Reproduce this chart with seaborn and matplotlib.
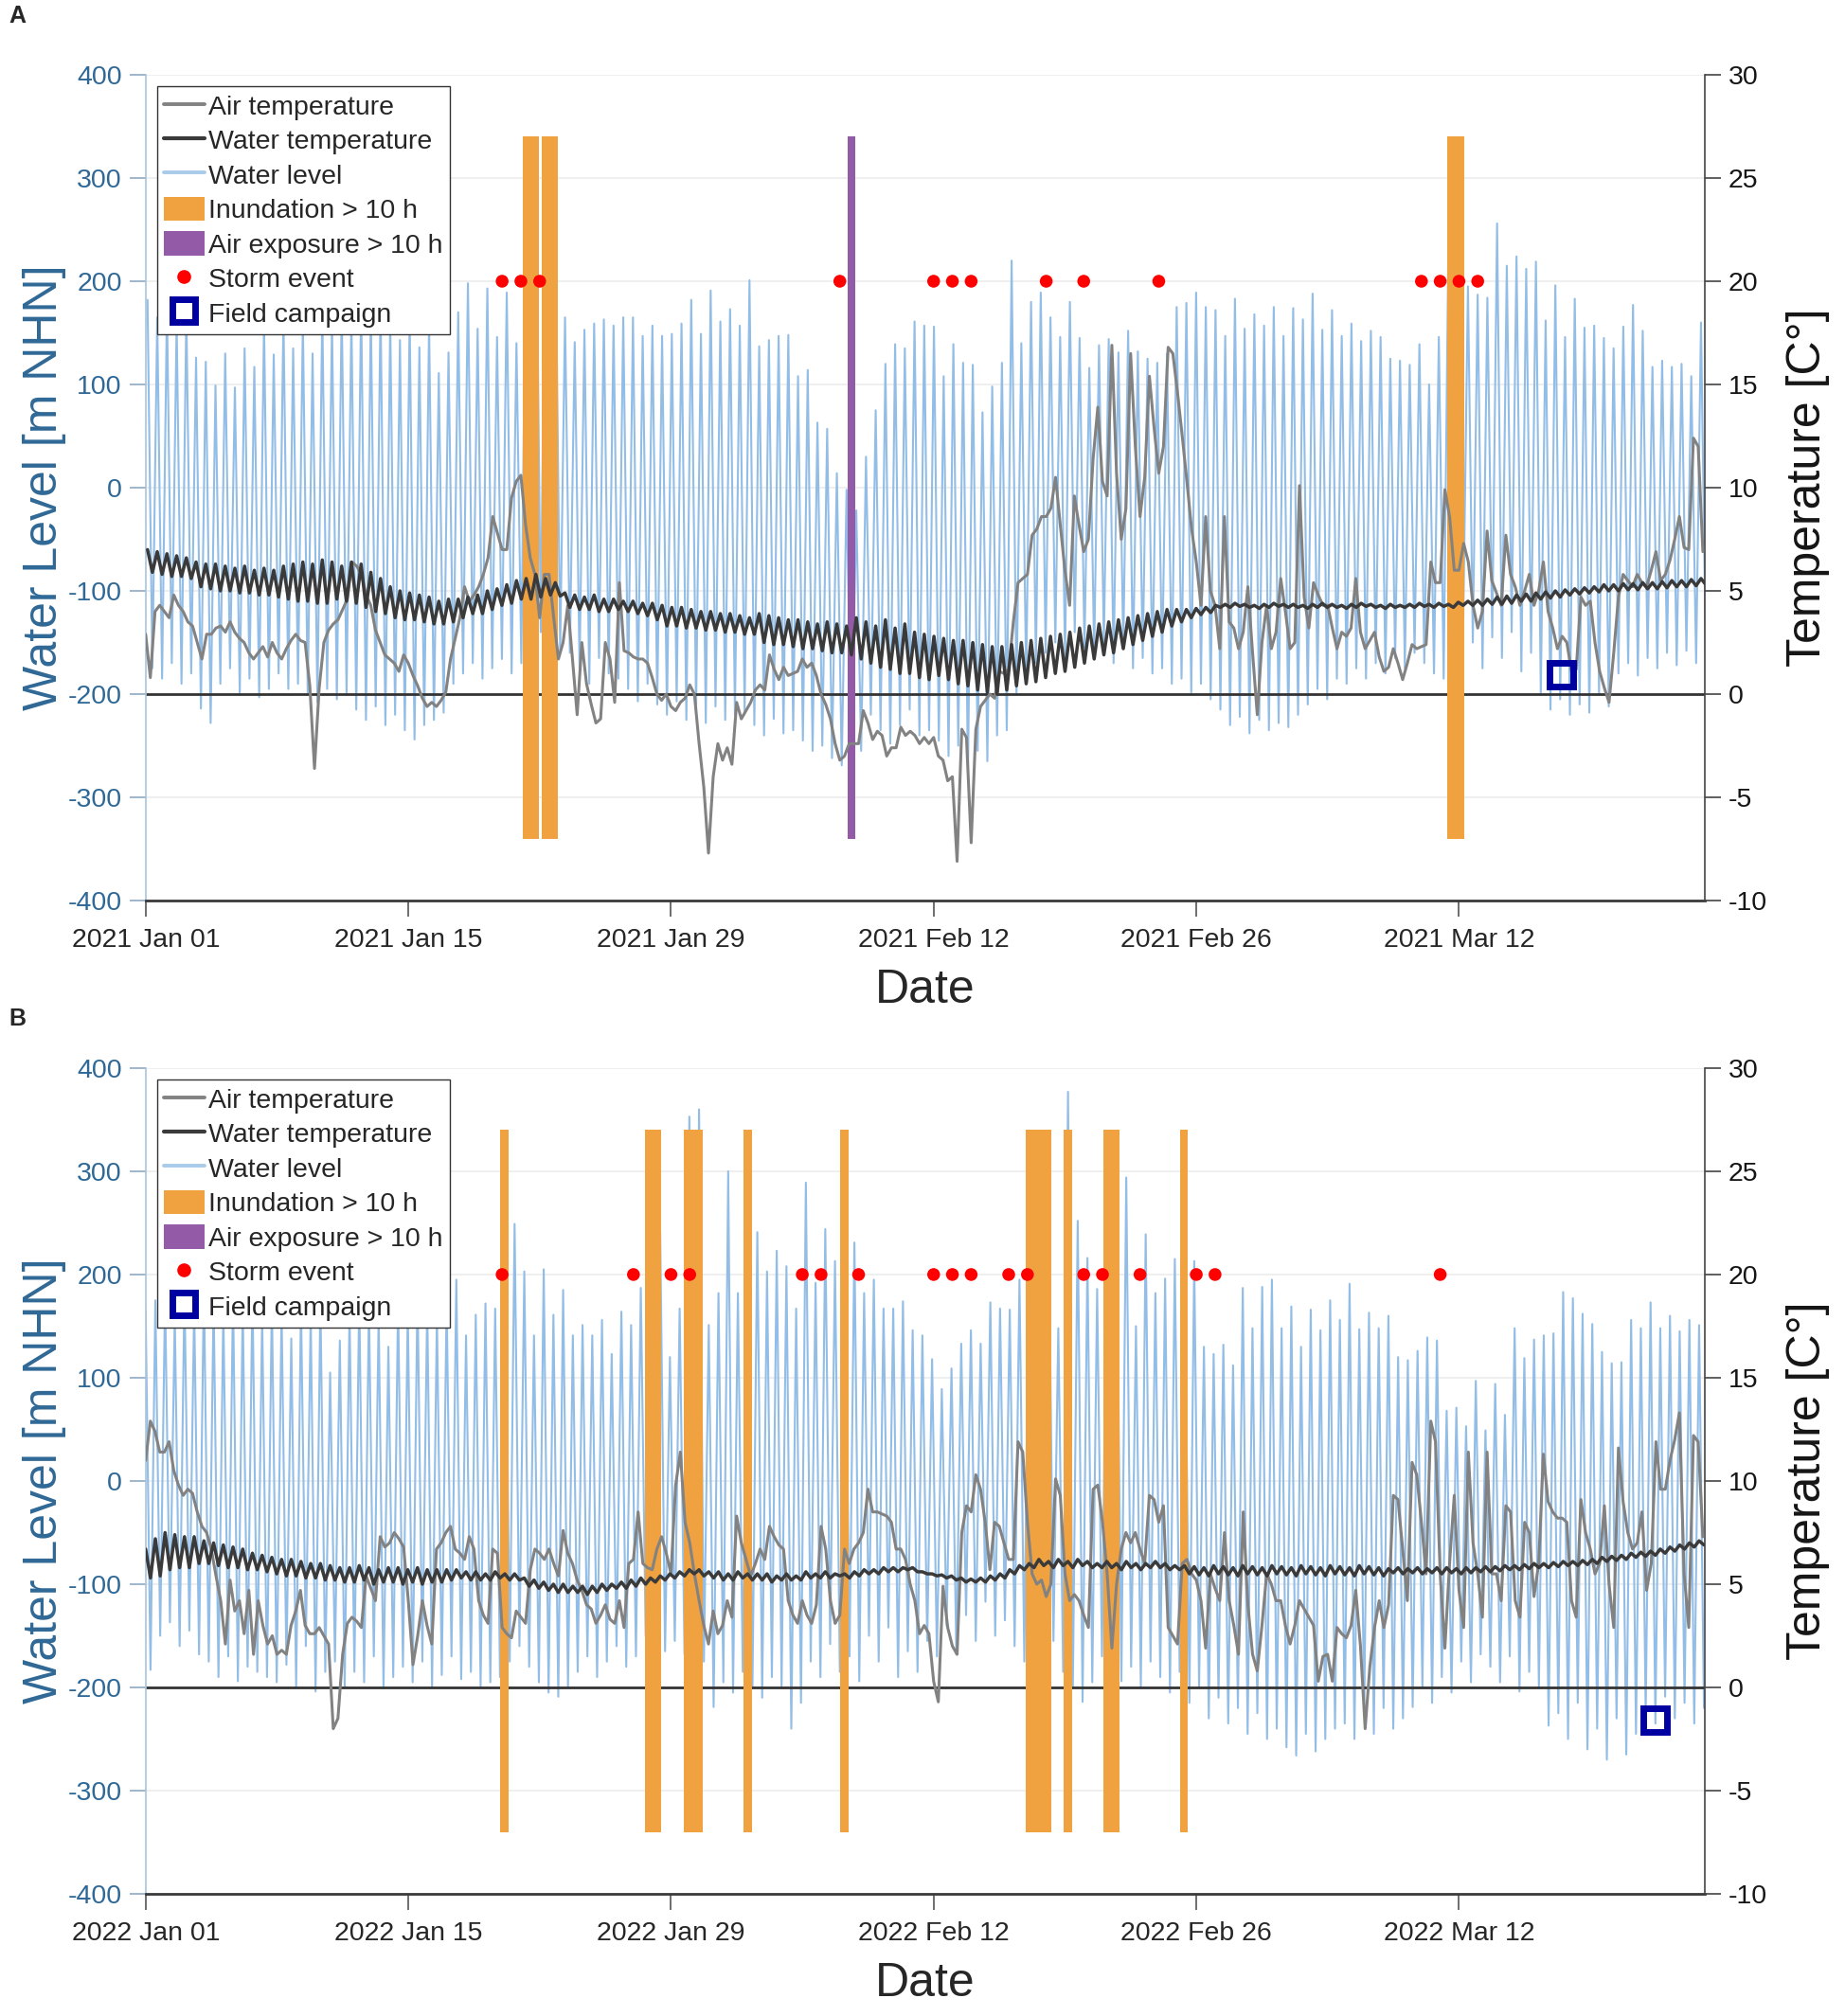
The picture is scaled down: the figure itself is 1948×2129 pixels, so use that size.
import numpy as np
import matplotlib
matplotlib.use("Agg")
import matplotlib.pyplot as plt
import matplotlib.dates as mdates
from matplotlib.lines import Line2D
from matplotlib.patches import Patch
import seaborn as sns
from datetime import datetime

sns.set_theme(style="white")
plt.rcParams['font.family'] = ['Liberation Sans', 'DejaVu Sans']
plt.rcParams['axes.unicode_minus'] = False

# ---------------- data (panel A: 2021, panel B: 2022) ----------------
# water level at successive high waters / low waters [m NHN, axis units]
hw_2021 = [182, 165, 175, 160, 170, 126, 122, 99, 130, 97, 135, 117, 160, 129, 165, 135, 160, 130, 170, 160,
           175, 165, 180, 170, 175, 160, 143, 165, 136, 160, 111, 131, 170, 198, 154, 193, 146, 189, 140, 290,
           310, 300, 260,
           165, 141, 153, 159, 163, 157, 165, 165, 147, 157, 147, 149, 159, 182, 149, 191, 161, 173, 157, 201,
           137, 143, 147, 148, 108, 114, 63, 57, 14, -2, -22, 30, 75, 120, 139, 135, 161, 157,
           156, 108, 139, 121, 119, 73, 98, 121, 220, 140, 180, 189, 165, 146, 180, 145, 116, 138, 144, 131,
           152, 132, 125, 121, 130, 175, 179, 189, 175, 172, 147, 183, 154, 168, 157, 175, 147, 174, 163, 188,
           153, 172, 147, 159, 142, 152, 146, 125, 123, 119, 139, 100, 146, 250, 240, 195, 187, 184, 256, 215,
           224, 212, 219, 162, 196, 146, 183, 155, 157, 145, 135, 156, 177, 152, 117, 123, 117, 120, 108, 160]
lw_2021 = [-175, -185, -170, -190, -180, -214, -228, -190, -175, -200, -185, -203, -195, -180, -195, -190,
           -200, -208, -195, -205, -200, -215, -225, -212, -230, -220, -235, -244, -230, -225, -218,
           -190, -180, -170, -185, -175, -166, -180, -170, -150, -140, -150, -160,
           -160, -175, -190, -165, -180, -185, -195, -207, -190,
           -210, -220, -207, -225, -215, -228, -212, -225, -220, -218, -230, -240, -224, -238, -235,
           -245, -255, -250, -262, -269, -265, -255, -220, -235, -248, -230, -215, -240, -235,
           -245, -260, -250, -276, -255, -265, -240, -235, -200, -185, -170, -160, -150, -165, -140, -155,
           -160, -150, -170, -155, -175, -165, -180, -175, -190, -185, -199, -190, -205,
           -215, -230, -222, -238, -225, -235, -228, -232, -220,
           -210, -195, -205, -185, -190, -175, -185, -170, -180, -165, -175, -160, -170, -180,
           -185, -150, -140, -150, -175, -145, -165, -140, -178, -160,
           -200, -215, -205, -220, -210, -218, -200, -212,
           -180, -170, -182, -165, -175, -160, -172, -158, -170, -165]
hw_2022 = [165, 175, 180, 160, 185, 170, 190, 175, 165, 180, 170, 185, 160, 175, 165, 138, 170, 160, 175, 105,
           136, 165, 180, 170, 160, 130, 175, 165, 185, 170, 160, 175,
           195, 141, 161, 172, 167, 260, 249, 203, 141, 205, 161, 185, 141, 151, 141, 156, 123, 164, 151, 187,
           250, 240, 120, 167, 353, 360, 151, 182, 300, 182, 230, 241, 203, 223, 208, 167, 289, 192, 244, 213,
           250, 231, 182, 195, 167, 167, 174, 146, 141,
           118, 89, 109, 133, 146, 133, 173, 167, 166, 195, 260, 270, 260, 148, 377, 252, 216, 186, 240, 250,
           294, 150, 239, 182, 196, 215, 230, 213, 130, 123, 132, 112, 187, 148, 188, 195, 148, 169, 130, 166,
           146, 175, 156, 191, 147, 163, 148, 160, 120, 117, 126, 139, 136, 68, 71, 53, 97, 49, 94, 64,
           148, 119, 137, 141, 143, 183, 177, 162, 152, 125, 114, 115, 156, 148, 173, 148, 160, 145, 156, 151]
lw_2022 = [-183, -150, -137, -160, -145, -168, -175, -190, -170, -194, -180, -185, -190, -195, -178, -199,
           -160, -204, -185, -175, -200, -185, -195, -170, -201, -190, -180, -195, -175, -200, -188, -170,
           -192, -185, -199, -195, -190, -175, -160, -180, -195, -205, -209, -200, -185, -170, -190, -175,
           -160, -180, -170, -150, -142, -165, -155, -168, -150, -175, -219, -195, -205, -185, -200, -210,
           -190, -199, -240, -215, -175, -190, -158, -185, -170, -194, -150, -175, -142, -190, -165, -185,
           -155, -170,
           -140, -168, -130, -155, -117, -150, -135, -160,
           -175, -160, -190, -155, -185, -200, -214, -195, -170, -185, -194, -180, -200, -175, -190, -205, -185,
           -215, -200, -230, -210, -235, -220, -245, -225, -250, -240, -258, -266, -245, -262, -250, -240,
           -235, -250, -225, -245, -220, -240, -230, -219, -200, -215, -190, -205, -175, -195, -168,
           -180, -195, -170, -204, -185, -200, -237, -225, -250, -215, -260, -240, -270, -230, -265, -245,
           -225, -235, -209, -230, -215, -235, -220]

# water temperature [°C] at high water / low water times
wt_hw_2021 = [7.0, 6.9, 6.8, 6.7, 6.6, 6.4, 6.3, 6.3, 6.2, 6.1, 6.2, 6.0, 6.1, 6.0, 6.2, 6.3,
              6.4, 6.3, 6.5, 6.4, 6.2, 6.4, 6.3, 5.9, 5.6, 5.2, 5.0, 4.9, 4.8, 4.7, 4.5, 4.6, 4.6,
              4.7, 4.8, 5.0, 5.1, 5.3, 5.5, 5.6, 5.8, 5.6, 5.4,
              4.9, 4.8, 4.7, 4.8, 4.6, 4.6, 4.5, 4.5, 4.4, 4.4, 4.3, 4.2, 4.2, 4.1, 4.0, 4.0, 3.9, 3.9, 3.8, 3.7,
              3.9, 3.8, 3.7, 3.6, 3.6, 3.5, 3.4, 3.5, 3.4, 3.3, 3.7, 3.5, 3.3, 3.6, 3.2, 3.4, 3.0, 2.9,
              2.8, 2.7, 2.6, 2.6, 2.5, 2.4, 2.3, 2.3, 2.4, 2.5, 2.6, 2.7, 2.8, 2.9, 3.0, 3.2,
              3.3, 3.4, 3.5, 3.6, 3.7, 3.8, 3.9, 4.0, 4.1, 4.1, 4.1, 4.15, 4.2,
              4.3, 4.35, 4.4, 4.35, 4.3, 4.35, 4.4, 4.35, 4.35, 4.3, 4.35, 4.4, 4.35, 4.3, 4.35, 4.4, 4.35,
              4.3, 4.35, 4.3, 4.35, 4.4, 4.35,
              4.4, 4.35, 4.45, 4.5, 4.55, 4.6, 4.7, 4.75, 4.8, 4.85, 4.9, 4.95, 5.0, 5.05, 5.1, 5.15, 5.2,
              5.3, 5.3, 5.35, 5.35, 5.4, 5.4, 5.45, 5.5, 5.5, 5.55, 5.6]
wt_lw_2021 = [5.9, 5.8, 5.7, 5.7, 5.6, 5.2, 5.1, 5.0, 5.0, 4.9, 4.9, 4.8, 4.8, 4.7, 4.6, 4.5,
              4.5, 4.4, 4.4, 4.6, 4.5, 4.4, 4.2, 4.0, 3.9, 3.7, 3.6, 3.6, 3.5, 3.4, 3.4, 3.5, 3.7,
              3.9, 3.9, 4.1, 4.3, 4.4, 4.6, 4.6, 4.7, 4.8, 4.75,
              4.2, 4.1, 4.1, 4.0, 4.0, 4.1, 4.0, 3.9, 3.8, 3.6, 3.3, 3.3, 3.2, 3.2, 3.1, 3.1, 3.0, 3.0, 2.9, 2.9,
              2.5, 2.4, 2.4, 2.3, 2.2, 2.2, 2.1, 2.0, 2.0, 1.9, 1.7, 1.5, 1.3, 1.2, 1.0, 1.0, 0.8, 0.7,
              0.9, 0.7, 0.5, 0.4, 0.2, 0.1, 0.0, 0.2, 0.4, 0.5, 0.6, 0.8, 1.0, 1.1, 1.3, 1.5,
              1.7, 1.9, 2.0, 2.2, 2.4, 2.6, 2.8, 3.0, 3.3, 3.5, 3.7, 3.85, 3.95,
              4.2, 4.2, 4.25, 4.2, 4.15, 4.2, 4.25, 4.2, 4.2, 4.15, 4.2, 4.2, 4.2, 4.15, 4.2, 4.25, 4.2,
              4.15, 4.2, 4.2, 4.2, 4.25, 4.2,
              4.25, 4.2, 4.3, 4.3, 4.3, 4.35, 4.35, 4.4, 4.5, 4.5, 4.6, 4.65, 4.7, 4.8, 4.85, 4.9, 4.95,
              5.0, 5.0, 5.05, 5.05, 5.1, 5.1, 5.15, 5.2, 5.2, 5.25, 5.3]
wt_hw_2022 = [6.7, 7.2, 7.5, 7.4, 7.3, 7.3, 7.1, 7.0, 6.9, 6.8, 6.7, 6.5, 6.4, 6.3, 6.2, 6.2, 6.1, 6.0, 6.0,
              5.9, 5.8, 5.8, 5.9, 5.8, 5.7, 5.8, 5.8, 5.7, 5.8, 5.7, 5.7, 5.7,
              5.7, 5.6, 5.6, 5.5, 5.6, 5.5, 5.5, 5.3, 5.2, 5.1, 5.0, 5.0, 4.9, 4.9, 4.9,
              5.0, 5.0, 5.1, 5.2, 5.3, 5.3, 5.4, 5.5, 5.6, 5.7,
              5.7, 5.6, 5.6, 5.5, 5.6, 5.5, 5.5, 5.5, 5.4, 5.5, 5.4, 5.6, 5.5, 5.6, 5.5, 5.5,
              5.6, 5.7, 5.7, 5.8, 5.8, 5.8, 5.8, 5.6, 5.5, 5.45, 5.4, 5.3, 5.25, 5.3,
              5.4, 5.5, 5.7, 5.9, 6.0,
              6.2, 6.1, 6.2, 6.1, 6.2, 6.1, 6.0, 6.1, 6.0, 6.1, 6.0, 6.0, 6.1, 6.0, 5.9,
              5.9, 5.85, 5.8, 5.9, 5.85, 5.8, 5.9, 5.85, 5.8, 5.9, 5.85, 5.8, 5.9, 5.85, 5.8, 5.9, 5.85, 5.8,
              5.9, 5.85, 5.8,
              5.75, 5.8, 5.75, 5.8, 5.75, 5.8, 5.8, 5.75, 5.8, 5.8, 5.85,
              5.85, 5.9, 5.9, 5.95, 6.0, 6.0, 6.05, 6.1, 6.1, 6.15, 6.2,
              6.3, 6.35, 6.4, 6.5, 6.55, 6.6, 6.7, 6.8, 6.9, 7.0, 7.1]
wt_lw_2022 = [5.3, 5.4, 5.7, 5.8, 5.8, 6.0, 6.0, 5.9, 5.8, 5.8, 5.7, 5.7, 5.6, 5.5, 5.4, 5.4, 5.3, 5.3, 5.2,
              5.2, 5.1, 5.1, 5.2, 5.0, 5.1, 5.1, 5.0, 5.1, 5.0, 5.1, 5.1, 5.2,
              5.3, 5.2, 5.2, 5.2, 5.3, 5.2, 5.2, 4.9, 4.8, 4.7, 4.6, 4.6, 4.6, 4.5, 4.6,
              4.7, 4.8, 4.8, 4.9, 5.0, 5.1, 5.2, 5.3, 5.4, 5.5,
              5.4, 5.3, 5.2, 5.2, 5.3, 5.2, 5.2, 5.1, 5.2, 5.2, 5.2, 5.3, 5.3, 5.3, 5.4, 5.3,
              5.4, 5.5, 5.5, 5.6, 5.6, 5.7, 5.6, 5.5, 5.4, 5.3, 5.2, 5.1, 5.1, 5.1,
              5.2, 5.3, 5.5, 5.7, 5.8,
              5.9, 5.8, 5.9, 5.8, 5.9, 5.8, 5.8, 5.8, 5.7, 5.8, 5.7, 5.8, 5.8, 5.7, 5.7,
              5.5, 5.45, 5.4, 5.5, 5.45, 5.4, 5.5, 5.45, 5.4, 5.5, 5.45, 5.4, 5.5, 5.45, 5.4, 5.5, 5.45, 5.4,
              5.5, 5.45, 5.4,
              5.55, 5.5, 5.55, 5.5, 5.55, 5.5, 5.55, 5.5, 5.55, 5.6, 5.6,
              5.65, 5.7, 5.7, 5.75, 5.8, 5.8, 5.85, 5.9, 5.9, 5.95, 6.0,
              6.1, 6.15, 6.2, 6.3, 6.35, 6.4, 6.5, 6.6, 6.7, 6.8, 6.9]

# air temperature [°C], 6-hourly from 1 Jan 00:00
air_2021 = [2.9, 0.8, 4.0, 4.3, 4.0, 3.7, 4.8, 4.3, 4.0, 3.5, 3.3, 2.5, 1.7, 2.9, 2.9, 3.2,
            3.3, 3.0, 3.5, 3.0, 2.7, 2.5, 2.0, 1.7, 2.0, 2.3, 1.8, 2.5, 2.0, 1.7, 2.2, 2.6,
            2.9, 2.6, 2.5, 0.4, -3.6, 0.3, 2.5, 3.1, 3.4, 3.6, 4.1, 4.6, 6.4, 6.2, 5.8, 4.8,
            4.3, 3.1, 2.5, 1.9, 1.7, 1.5, 1.1, 1.9, 1.5, 0.9, 0.4, -0.2, -0.6, -0.4, -0.6, -0.3,
            0.1, 1.7, 2.7, 3.7, 5.2, 4.5, 4.8, 5.2, 5.8, 6.6, 8.6, 7.8, 7.0, 7.0, 9.5, 10.3,
            10.6, 8.2, 6.6, 5.8, 3.7, 5.8, 5.8, 3.7, 1.7, 2.5, 4.3, 1.7, -1.0, 2.5, 0.5, -0.5,
            -1.4, -1.2, 2.5, 1.7, -0.4, 5.4, 2.1, 2.0, 1.8, 1.7, 1.7, 1.5, 0.8, 0.0, -0.3, 0.0,
            -0.6, -0.8, -0.4, -0.2, 0.45, 0.0, -2.4, -4.5, -7.7, -4.0, -2.4, -3.2, -2.6, -3.4, -0.4, -1.2,
            -0.8, -0.4, 0.2, 0.45, 0.2, 1.9, 1.2, 0.7, 1.3, 0.9, 1.0, 1.1, 1.7, 1.3, 1.5, 0.9,
            0.0, -0.5, -1.2, -2.4, -3.2, -3.0, -2.4, -2.4, -2.4, -0.8, -1.4, -2.2, -1.8, -2.0, -3.0, -2.6,
            -2.6, -1.6, -2.0, -1.8, -2.0, -2.4, -2.1, -2.4, -2.1, -3.0, -3.2, -4.2, -4.0, -8.1, -1.7, -2.1,
            -7.2, -1.7, -0.6, -0.3, 0.0, -0.2, 1.1, 1.0, 1.2, 3.5, 5.4, 5.6, 5.8, 7.7, 8.0, 8.6,
            8.6, 9.0, 10.5, 8.2, 6.0, 4.3, 9.6, 8.2, 6.9, 7.5, 11.4, 13.9, 10.3, 9.6, 16.9, 10.7,
            7.5, 9.0, 16.5, 12.0, 8.6, 10.5, 15.4, 12.9, 10.7, 12.0, 16.8, 16.5, 14.6, 12.5, 10.3, 8.0,
            6.4, 4.3, 8.6, 5.0, 4.3, 2.2, 8.6, 3.5, 3.2, 2.2, 3.0, 5.2, 2.0, -1.0, 2.5, 4.3,
            2.2, 3.0, 5.6, 4.0, 2.2, 2.5, 10.1, 4.7, 3.2, 5.4, 4.8, 4.3, 4.3, 3.2, 2.2, 3.0,
            2.8, 3.2, 5.6, 3.0, 2.2, 2.6, 3.0, 1.8, 1.1, 1.3, 2.2, 1.5, 0.7, 1.5, 2.4, 2.2,
            2.3, 2.4, 6.4, 5.4, 5.4, 9.9, 8.6, 6.0, 6.0, 7.3, 6.4, 4.3, 3.2, 4.0, 7.9, 5.5,
            4.9, 4.3, 7.7, 5.8, 5.2, 4.3, 5.0, 5.8, 4.3, 5.0, 6.4, 4.0, 3.2, 2.2, 2.8, 2.5,
            1.1, 1.2, 4.7, 4.3, 4.5, 2.5, 1.1, 0.3, -0.4, 2.0, 4.7, 5.8, 5.5, 5.2, 5.8, 5.4,
            5.2, 6.0, 6.9, 5.5, 5.8, 6.5, 7.5, 8.6, 7.1, 7.0, 12.4, 12.0, 6.9]
air_2022 = [11.0, 12.9, 12.4, 11.4, 11.4, 11.9, 10.5, 9.8, 9.3, 9.6, 9.4, 8.5, 7.8, 7.5, 6.7, 5.4,
            4.2, 2.1, 5.2, 3.7, 4.2, 2.6, 4.7, 1.6, 4.2, 3.0, 2.1, 2.5, 1.6, 1.8, 1.6, 3.0,
            3.7, 4.7, 3.0, 2.6, 2.6, 2.9, 2.5, 2.1, -2.0, -1.5, 1.6, 3.1, 3.4, 3.2, 2.9, 5.4,
            4.8, 4.2, 7.3, 6.8, 7.0, 7.5, 7.2, 6.8, 4.2, 1.1, 2.5, 4.2, 3.0, 2.1, 6.7, 7.0,
            7.5, 7.8, 6.7, 6.5, 6.2, 7.3, 6.7, 4.2, 3.5, 3.1, 6.7, 6.5, 2.9, 2.6, 2.4, 3.7,
            3.4, 3.1, 5.7, 6.7, 6.5, 6.2, 6.7, 6.0, 5.4, 7.6, 6.5, 6.0, 5.2, 4.7, 4.0, 3.8,
            3.1, 3.5, 4.0, 3.3, 3.1, 4.2, 2.9, 6.0, 6.2, 8.5, 6.0, 5.8, 5.7, 6.7, 7.3, 6.5,
            5.5, 9.8, 11.4, 8.0, 7.0, 5.5, 4.2, 3.0, 2.1, 3.7, 2.6, 3.0, 4.2, 3.4, 8.3, 7.0,
            6.2, 5.4, 6.0, 6.7, 6.2, 7.8, 7.3, 6.9, 6.7, 4.2, 3.5, 3.1, 4.2, 3.5, 3.1, 4.0,
            7.8, 6.7, 4.2, 3.1, 3.5, 6.7, 6.0, 6.7, 7.0, 7.5, 9.6, 8.5, 8.5, 8.4, 8.3, 8.0,
            6.7, 6.7, 6.2, 5.0, 4.2, 2.6, 3.0, 2.6, 0.3, -0.7, 4.9, 2.9, 2.0, 1.6, 7.5, 8.8,
            8.5, 10.3, 9.6, 8.0, 5.7, 8.0, 7.8, 7.0, 6.2, 6.2, 11.9, 11.4, 8.0, 5.5, 5.0, 5.2,
            4.4, 5.0, 10.1, 9.3, 5.5, 4.2, 4.5, 4.2, 3.5, 2.9, 9.6, 9.8, 8.0, 5.5, 1.9, 5.0,
            6.7, 7.5, 7.0, 7.5, 6.7, 6.0, 9.3, 9.1, 8.0, 8.8, 2.9, 2.5, 2.1, 6.0, 6.2, 5.5,
            5.2, 4.2, 1.9, 5.5, 4.8, 4.2, 7.5, 4.2, 3.0, 1.6, 8.5, 4.0, 1.6, 0.8, 3.0, 5.5,
            5.0, 4.2, 4.2, 3.0, 2.1, 3.0, 4.2, 3.8, 3.4, 3.0, 0.3, 1.5, 1.6, 0.3, 2.9, 2.6,
            2.4, 3.0, 4.7, 2.0, -2.0, 1.0, 2.9, 4.2, 2.9, 4.0, 9.3, 9.1, 6.7, 4.2, 10.9, 10.3,
            8.0, 5.5, 12.9, 11.9, 5.5, 1.9, 6.0, 9.3, 4.7, 2.9, 11.4, 7.0, 5.5, 3.4, 11.4, 5.5,
            5.5, 4.2, 8.8, 8.5, 4.2, 3.4, 8.0, 7.5, 4.4, 6.0, 11.3, 9.0, 8.5, 8.2, 8.2, 8.0,
            4.2, 3.4, 9.1, 7.5, 6.7, 5.5, 6.0, 8.8, 5.0, 2.9, 11.6, 9.0, 7.5, 6.7, 7.0, 8.5,
            4.7, 6.0, 11.9, 9.6, 9.6, 11.0, 12.0, 13.3, 5.5, 2.9, 12.2, 11.9, 7.3]

# events (days after 1 January)
inund_start_2021 = [20.09, 21.11, 69.39]
inund_end_2021 = [20.98, 21.98, 70.28]
expo_start_2021 = [37.42]
expo_end_2021 = [37.82]
storm_2021 = [19, 20, 21, 37, 42, 43, 44, 48, 50, 54, 68, 69, 70, 71]
field_day_2021, field_temp_2021 = [75.45], [0.95]

inund_start_2022 = [18.89, 26.60, 28.71, 31.86, 37.01, 46.93, 48.95, 51.03, 55.12]
inund_end_2022 = [19.34, 27.47, 29.69, 32.32, 37.45, 48.28, 49.38, 51.93, 55.52]
expo_start_2022 = []
expo_end_2022 = []
storm_2022 = [19, 26, 28, 29, 35, 36, 38, 42, 43, 44, 46, 47, 50, 51, 53, 56, 57, 69]
field_day_2022, field_temp_2022 = [80.45], [-1.55]

tick_days = [0, 14, 28, 42, 56, 70]

# ---------------- styling constants ----------------
TIDE_PERIOD = 0.5175      # days (semi-diurnal)
AIR_STEP = 0.25           # days
SPAN_DAYS = 83.1
BAR_BOTTOM, BAR_TOP = -340, 340
STORM_LEVEL = 200
BLUE_TXT = '#2F6896'
WL_COLOR = '#92BDE6'
AIR_COLOR = '#828282'
WT_COLOR = '#3A3A3A'
ORANGE = '#EFA23F'
PURPLE = '#935AA8'
FC_COLOR = '#0000A0'
FS = 20.5


def draw_panel(ax, year, t0, hw, lw, wt_hi, wt_lo, air, ins, ine, exs, exe, storms, fcd, fct):
    base = mdates.date2num(datetime(year, 1, 1))
    n = min(len(hw), len(lw), len(wt_hi), len(wt_lo))
    k = np.arange(n)
    t_hw = base + t0 + k * TIDE_PERIOD
    t_lw = t_hw + TIDE_PERIOD / 2
    t_tide = np.column_stack([t_hw, t_lw]).ravel()
    wl = np.column_stack([np.array(hw[:n]), np.array(lw[:n])]).ravel()
    wt = np.column_stack([np.array(wt_hi[:n]), np.array(wt_lo[:n])]).ravel()
    t_air = base + np.arange(len(air)) * AIR_STEP

    ax2 = ax.twinx()

    # left axis: water level, events
    ax.yaxis.grid(True, color='#ECECEC', lw=1.2, zorder=0)
    ax.set_axisbelow(True)
    sns.lineplot(x=t_tide, y=wl, ax=ax, color=WL_COLOR, linewidth=1.5,
                 estimator=None, sort=False, legend=False, zorder=1)
    ax.axhline(-200, color='#333333', lw=2.0, zorder=2)
    ins, ine = np.array(ins), np.array(ine)
    if len(ins):
        ax.bar(base + ins, BAR_TOP - BAR_BOTTOM, bottom=BAR_BOTTOM, width=ine - ins,
               align='edge', color=ORANGE, linewidth=0, zorder=3)
    exs, exe = np.array(exs), np.array(exe)
    if len(exs):
        ax.bar(base + exs, BAR_TOP - BAR_BOTTOM, bottom=BAR_BOTTOM, width=exe - exs,
               align='edge', color=PURPLE, linewidth=0, zorder=3)
    sns.scatterplot(x=base + np.array(storms, dtype=float), y=np.full(len(storms), STORM_LEVEL),
                    ax=ax, color='#FF0000', s=95, edgecolor='none', zorder=5, legend=False)

    # right axis: temperatures
    sns.lineplot(x=t_air, y=air, ax=ax2, color=AIR_COLOR, linewidth=2.2,
                 estimator=None, sort=False, legend=False, zorder=3)
    sns.lineplot(x=t_tide, y=wt, ax=ax2, color=WT_COLOR, linewidth=2.5,
                 estimator=None, sort=False, legend=False, zorder=4)
    ax2.plot(base + np.array(fcd), fct, ls='', marker='s', ms=18, mfc='none',
             mec=FC_COLOR, mew=5, zorder=6)

    ax.set_xlim(base, base + SPAN_DAYS)
    ax.set_ylim(-400, 400)
    ax2.set_ylim(-10, 30)
    ax.set_yticks(np.arange(-400, 401, 100))
    ax2.set_yticks(np.arange(-10, 31, 5))
    ax.set_xticks(base + np.array(tick_days))
    ax.xaxis.set_major_formatter(mdates.DateFormatter('%Y %b %d'))

    ax.tick_params(axis='y', direction='out', length=12, width=1.2, color='#8FA9C4',
                   labelcolor=BLUE_TXT, labelsize=FS, pad=6, left=True)
    ax.tick_params(axis='x', direction='out', length=12, width=1.2, color='#555555',
                   labelcolor='#262626', labelsize=FS, pad=9, bottom=True)
    ax2.tick_params(axis='y', direction='out', length=12, width=1.2, color='#444444',
                    labelcolor='#151515', labelsize=FS, pad=6, right=True)

    for s in ['top', 'right']:
        ax.spines[s].set_visible(False)
    ax.spines['left'].set_color('#A9C3DC')
    ax.spines['left'].set_linewidth(1.2)
    ax.spines['bottom'].set_color('#3A3A3A')
    ax.spines['bottom'].set_linewidth(2.0)
    for s in ['top', 'left', 'bottom']:
        ax2.spines[s].set_visible(False)
    ax2.spines['right'].set_color('#444444')
    ax2.spines['right'].set_linewidth(1.2)

    ax.set_xlabel('Date', fontsize=36, color='#262626')
    ax.xaxis.set_label_coords(0.5, -0.083)
    ax.set_ylabel('Water Level [m NHN]', fontsize=36, color=BLUE_TXT)
    ax.yaxis.set_label_coords(-0.051, 0.5)
    ax2.set_ylabel('Temperature [C°]', fontsize=36, color='#151515')
    ax2.yaxis.set_label_coords(1.052, 0.5)

    handles = [
        Line2D([], [], color=AIR_COLOR, lw=2.8),
        Line2D([], [], color=WT_COLOR, lw=3.0),
        Line2D([], [], color='#A9CBEA', lw=2.8),
        Patch(facecolor=ORANGE, edgecolor='none'),
        Patch(facecolor=PURPLE, edgecolor='none'),
        Line2D([], [], ls='', marker='o', color='#FF0000', ms=9.5),
        Line2D([], [], ls='', marker='s', mfc='white', mec=FC_COLOR, mew=5, ms=17),
    ]
    labels = ['Air temperature', 'Water temperature', 'Water level', 'Inundation > 10 h',
              'Air exposure > 10 h', 'Storm event', 'Field campaign']
    leg = ax2.legend(handles, labels, loc='upper left', bbox_to_anchor=(0.0074, 0.986),
                     borderaxespad=0, frameon=True, fancybox=False, framealpha=1,
                     edgecolor='#333333', fontsize=FS, handlelength=1.5, handleheight=1.0,
                     handletextpad=0.15, labelspacing=0.28, borderpad=0.25)
    leg.get_frame().set_linewidth(1.0)
    leg.set_zorder(10)
    return ax2


fig = plt.figure(figsize=(19.49, 21.29), dpi=100)
axA = fig.add_axes([0.0789, 0.5533, 0.8446, 0.4096])
axB = fig.add_axes([0.0789, 0.0606, 0.8446, 0.4096])

draw_panel(axA, 2021, 0.10, hw_2021, lw_2021, wt_hw_2021, wt_lw_2021, air_2021,
           inund_start_2021, inund_end_2021, expo_start_2021, expo_end_2021,
           storm_2021, field_day_2021, field_temp_2021)
draw_panel(axB, 2022, 0.00, hw_2022, lw_2022, wt_hw_2022, wt_lw_2022, air_2022,
           inund_start_2022, inund_end_2022, expo_start_2022, expo_end_2022,
           storm_2022, field_day_2022, field_temp_2022)

fig.text(0.005, 0.9977, 'A', fontsize=18, fontweight='bold', va='top', ha='left')
fig.text(0.005, 0.5002, 'B', fontsize=18, fontweight='bold', va='top', ha='left')

fig.savefig('out.png', dpi=100)
